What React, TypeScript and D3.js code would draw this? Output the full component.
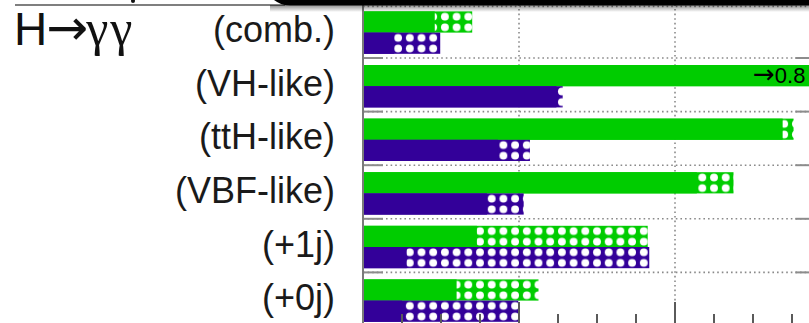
import React from "react";
import * as d3 from "d3";

const categories = ["(comb.)", "(VH-like)", "(ttH-like)", "(VBF-like)", "(+1j)", "(+0j)"];
const greenSolid = [0.092, 0.8, 0.538, 0.428, 0.146, 0.12];
const greenTotal = [0.14, 0.8, 0.552, 0.475, 0.365, 0.225];
const purpleSolid = [0.04, 0.248, 0.173, 0.159, 0.056, 0.05];
const purpleTotal = [0.099, 0.256, 0.214, 0.206, 0.367, 0.199];
const majorTicks = [0, 0.2, 0.4, 0.6];
const minorTicks = [0.05, 0.1, 0.15, 0.25, 0.3, 0.35, 0.45, 0.5, 0.55];
const titleParts = ["H", "→", "γγ"];
const offscaleParts = ["→", "0.8"];

const W = 809;
const H = 323;
const X0 = 363;
const XMAX = 0.58;
const FRAME_R = X0 + 780 * XMAX;
const Y_TOP = 4.4;
const Y_BOT = 326;
const GREEN = "#00cc00";
const PURPLE = "#330099";
const FONT = "'Liberation Sans', Arial, Helvetica, sans-serif";
const ARROW_FONT = "'DejaVu Sans', sans-serif";
const GREEK_FONT = "'Liberation Serif', 'Times New Roman', serif";

export default function App() {
  const x = d3.scaleLinear().domain([0, XMAX]).range([X0, FRAME_R]);
  const y = d3.scaleBand<string>().domain(categories).range([Y_TOP, Y_BOT]).padding(0);
  const bw = y.bandwidth();
  const barTop = 7;
  const barH = 21.2;
  const cellW = x(0.015) - x(0);

  const boundaries = categories.map((c) => y(c) as number);
  const series = [
    { key: "g", solid: greenSolid, total: greenTotal, color: GREEN, off: barTop },
    { key: "p", solid: purpleSolid, total: purpleTotal, color: PURPLE, off: barTop + barH },
  ];

  return (
    <svg
      width={W}
      height={H}
      style={{ position: "absolute", left: 0, top: 0, display: "block", background: "#fff" }}
      fontFamily={FONT}
    >
      <defs>
        <clipPath id="frame">
          <rect x={X0} y={Y_TOP} width={FRAME_R - X0} height={Y_BOT - Y_TOP} />
        </clipPath>
        <linearGradient id="shadow" x1="0" y1="0" x2="0" y2="1">
          <stop offset="0" stopColor="#000" stopOpacity={0.45} />
          <stop offset="1" stopColor="#000" stopOpacity={0} />
        </linearGradient>
        {series.map((s) =>
          categories.map((c, i) => (
            <pattern
              key={s.key + i}
              id={`pat-${s.key}-${i}`}
              patternUnits="userSpaceOnUse"
              x={X0 - cellW / 2}
              y={(y(c) as number) + s.off}
              width={cellW}
              height={barH / 2}
            >
              <rect width={cellW} height={barH / 2} fill={s.color} />
              <circle cx={cellW / 2} cy={barH / 4} r={3.9} fill="#fff" />
            </pattern>
          ))
        )}
      </defs>

      {/* grid lines */}
      <g stroke="#8a8a8a" strokeWidth={1.6} strokeDasharray="1.6,3" fill="none">
        {boundaries.map((b, i) => (
          <line key={"h" + i} x1={X0} x2={FRAME_R} y1={b + (i === 0 ? 2 : 0)} y2={b + (i === 0 ? 2 : 0)} />
        ))}
        {majorTicks
          .filter((t) => t > 0 && t < XMAX)
          .map((t) => (
            <line key={"v" + t} x1={x(t)} x2={x(t)} y1={Y_TOP} y2={Y_BOT} />
          ))}
      </g>

      {/* bars */}
      <g clipPath="url(#frame)">
        {series.map((s) =>
          categories.map((c, i) => {
            const top = (y(c) as number) + s.off;
            return (
              <g key={s.key + c}>
                <rect
                  x={x(0)}
                  y={top}
                  width={x(s.total[i]) - x(0)}
                  height={barH}
                  fill={`url(#pat-${s.key}-${i})`}
                />
                <rect x={x(0)} y={top} width={x(s.solid[i]) - x(0)} height={barH} fill={s.color} />
              </g>
            );
          })
        )}
      </g>

      {/* off-scale label */}
      {greenTotal.map((v, i) =>
        v > XMAX ? (
          <text
            key={"off" + i}
            x={FRAME_R - 10}
            y={(y(categories[i]) as number) + barTop + barH / 2 + 7.5}
            textAnchor="end"
            fontSize={22}
            fill="#000"
          >
            <tspan fontFamily={ARROW_FONT} fontSize={26}>{offscaleParts[0]}</tspan>
            <tspan>{offscaleParts[1]}</tspan>
          </text>
        ) : null
      )}

      {/* y-axis ticks (left & right) */}
      <g stroke="#8c8c8c" strokeWidth={2}>
        {boundaries.slice(1).map((b, i) => (
          <g key={"yt" + i}>
            <line x1={X0} x2={X0 + 20} y1={b} y2={b} />
            <line x1={FRAME_R - 20} x2={FRAME_R} y1={b} y2={b} />
          </g>
        ))}
      </g>

      {/* bottom axis ticks */}
      <g stroke="#5a5a5a" strokeWidth={2}>
        {majorTicks.map((t) => (
          <line key={"M" + t} x1={x(t)} x2={x(t)} y1={Y_BOT} y2={Y_BOT - 24} />
        ))}
        {minorTicks.map((t) => (
          <line key={"m" + t} x1={x(t)} x2={x(t)} y1={Y_BOT} y2={Y_BOT - 12} />
        ))}
      </g>

      {/* left frame */}
      <line x1={X0} x2={X0} y1={Y_TOP} y2={Y_BOT} stroke="#7a7a7a" strokeWidth={2} />

      {/* category labels */}
      <g fontSize={36} fill="#1a1a1a" textAnchor="end">
        {categories.map((c) => (
          <text key={c} x={335} y={(y(c) as number) + bw / 2 + 11}>
            {c}
          </text>
        ))}
      </g>
      <text x={14} y={45} fontSize={46} fill="#111">
        <tspan>{titleParts[0]}</tspan>
        <tspan fontFamily={ARROW_FONT} fontSize={50} dx={-1}>{titleParts[1]}</tspan>
        <tspan fontFamily={GREEK_FONT} fontSize={50} dx={-2} letterSpacing={2}>{titleParts[2]}</tspan>
      </text>

      {/* top decoration */}
      <line x1={15} x2={285} y1={5} y2={5} stroke="#555" strokeWidth={1.5} />
      <circle cx={133} cy={1} r={2} fill="#111" />
      <rect x={270} y={5} width={W - 270} height={7} fill="url(#shadow)" />
      <rect x={268} y={-30} width={W} height={35.5} rx={22} fill="#000" />
    </svg>
  );
}
